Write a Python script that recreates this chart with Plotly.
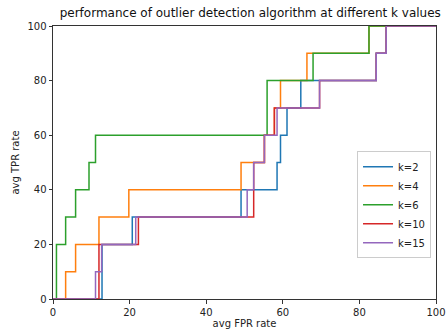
import plotly.graph_objects as go

# Step-curve corner points (x where the jump happens, new TPR level)
fpr_k2 = [0, 12.8, 20.7, 49.1, 58.5, 59.4, 61.1, 64.7, 84.4, 87.0, 100]
tpr_k2 = [0, 20, 30, 40, 50, 60, 70, 80, 90, 100, 100]

fpr_k4 = [0, 3.3, 5.9, 12.0, 19.8, 49.1, 55.2, 57.8, 59.4, 66.3, 82.5, 100]
tpr_k4 = [0, 10, 20, 30, 40, 50, 60, 70, 80, 90, 100, 100]

fpr_k6 = [0, 0.9, 3.3, 5.9, 9.4, 11.1, 55.9, 67.9, 82.5, 100]
tpr_k6 = [0, 20, 30, 40, 50, 60, 80, 90, 100, 100]

fpr_k10 = [0, 12.0, 22.3, 52.4, 52.4, 55.2, 57.8, 69.6, 84.4, 87.0, 100]
tpr_k10 = [0, 20, 30, 40, 50, 60, 70, 80, 90, 100, 100]

fpr_k15 = [0, 11.1, 12.7, 21.6, 50.7, 52.4, 55.2, 58.5, 69.6, 84.4, 87.0, 100]
tpr_k15 = [0, 10, 20, 30, 40, 50, 60, 70, 80, 90, 100, 100]

series_names = ["k=2", "k=4", "k=6", "k=10", "k=15"]
series_x = [fpr_k2, fpr_k4, fpr_k6, fpr_k10, fpr_k15]
series_y = [tpr_k2, tpr_k4, tpr_k6, tpr_k10, tpr_k15]
colors = ["#1f77b4", "#ff7f0e", "#2ca02c", "#d62728", "#9467bd"]

tick_vals = [0, 20, 40, 60, 80, 100]

fig = go.Figure()
for name, xs, ys, c in zip(series_names, series_x, series_y, colors):
    fig.add_trace(go.Scatter(x=xs, y=ys, mode="lines", name=name,
                             line=dict(color=c, width=1.5, shape="hv")))

font = "DejaVu Sans"
axis_common = dict(range=[0, 100], tickvals=tick_vals, showgrid=False, zeroline=False,
                   showline=True, linecolor="#333333", linewidth=1, mirror=True,
                   ticks="outside", ticklen=3.5, tickwidth=1, tickcolor="#333333",
                   automargin=False,
                   tickfont=dict(family=font, size=10, color="#222222"))

fig.update_layout(
    width=448, height=331,
    margin=dict(l=53, r=12, t=26, b=32, autoexpand=False),
    plot_bgcolor="white", paper_bgcolor="white",
    title=dict(text="performance of outlier detection algorithm at different k values",
               xref="paper", x=0.515, xanchor="center",
               yref="container", y=0.96, yanchor="middle",
               font=dict(family=font, size=12, color="#111111")),
    xaxis=dict(title=dict(text="avg FPR rate", standoff=3,
                          font=dict(family=font, size=10, color="#222222")), **axis_common),
    yaxis=dict(title=dict(text="avg TPR rate", standoff=5,
                          font=dict(family=font, size=10, color="#222222")), **axis_common),
    legend=dict(x=0.987, y=0.345, xanchor="right", yanchor="middle",
                bgcolor="rgba(255,255,255,0.8)", bordercolor="#cccccc", borderwidth=1,
                font=dict(family=font, size=10, color="#222222"),
                itemwidth=30, tracegroupgap=0),
    showlegend=True,
)

fig.write_html("out.html")
